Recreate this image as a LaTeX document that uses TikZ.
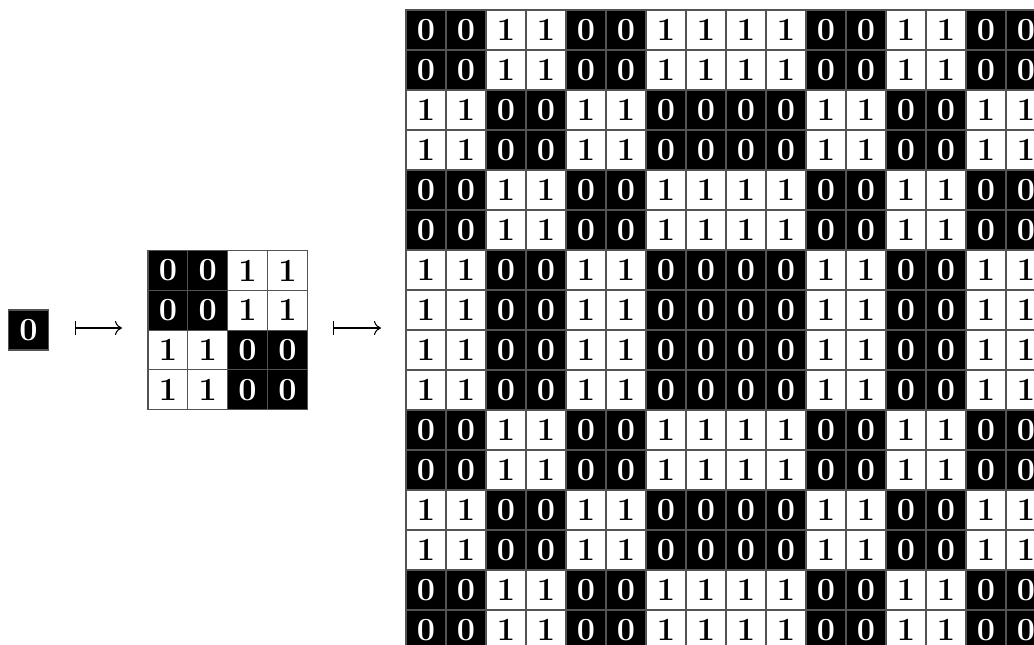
\documentclass[tikz,border=0pt]{standalone}
\usepackage{fontspec}
\setmainfont{Latin Modern Roman}
\usetikzlibrary{arrows.meta,calc}
\begin{document}
\begin{tikzpicture}[x=0.025cm,y=-0.025cm,
  cell/.style={minimum size=1cm,inner sep=0pt,draw=gray!65!black,line width=0.8pt,
    font=\fontsize{23}{26}\selectfont\bfseries},
  c0/.style={cell,fill=black,text=white},
  c1/.style={cell,fill=white,text=black},
  mapsto/.style={line width=0.75pt,{Bar[width=14*0.025cm]}-{To[length=5pt,width=14*0.025cm]}}]
\useasboundingbox (0,0) rectangle (1034,645);
\clip (0,0) rectangle (1034,645);
% single cell
\node[c0] (single) at (28.5,330) {0};
% small grid
\foreach \a [count=\i from 0] in {0,0,1,1}
  \foreach \b [count=\j from 0] in {0,0,1,1} {
    \pgfmathtruncatemacro\v{mod(\a+\b,2)}
    \node[c\v] (s-\i-\j) at (168+39.8*\i,270.5+39.8*\j) {\v};
  }
% big grid
\foreach \a [count=\i from 0] in {0,0,1,1,0,0,1,1,1,1,0,0,1,1,0,0}
  \foreach \b [count=\j from 0] in {0,0,1,1,0,0,1,1,1,1,0,0,1,1,0,0} {
    \pgfmathtruncatemacro\v{mod(\a+\b,2)}
    \node[c\v] (b-\i-\j) at (426+40*\i,30+40*\j) {\v};
  }
% arrows
\coordinate (smallW) at (148,328);
\coordinate (smallE) at (307.5,328);
\coordinate (bigW) at (406,328);
\draw[mapsto,shorten <=25.5*0.025cm,shorten >=26*0.025cm] ($(single.east)+(0,-2)$) -- (smallW);
\draw[mapsto,shorten <=25.5*0.025cm,shorten >=25*0.025cm] (smallE) -- (bigW);
\end{tikzpicture}
\end{document}
